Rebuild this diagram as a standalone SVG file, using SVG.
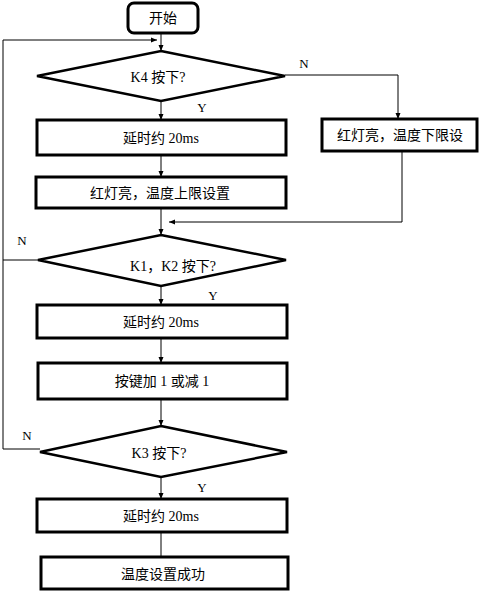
<svg xmlns="http://www.w3.org/2000/svg" width="479" height="591" viewBox="0 0 479 591">
<defs>
<marker id="arr" markerWidth="6" markerHeight="6" refX="6" refY="3" orient="auto" markerUnits="userSpaceOnUse">
<path d="M0,0.5 L6,3 L0,5.5 Z" fill="#000"/>
</marker>
<style>
.box{fill:#fff;stroke:#000;stroke-width:3}
.dia{fill:#fff;stroke:#000;stroke-width:2.5;stroke-linejoin:miter}
.ln{fill:none;stroke:#000;stroke-width:1}
.t{font-family:"Liberation Serif","Noto Sans CJK SC",serif;font-size:14px;fill:#000;text-anchor:middle}
.lbl{font-family:"Liberation Serif",serif;font-size:13px;fill:#000;text-anchor:middle}
</style>
</defs>
<rect width="479" height="591" fill="#fff"/>
<g id="connectors">
<line class="ln" x1="161" y1="33" x2="161" y2="51" marker-end="url(#arr)"/>
<polyline class="ln" points="40,449 3,449 3,40 157,40" marker-end="url(#arr)"/>
<line class="ln" x1="38" y1="260" x2="3" y2="260"/>
<line class="ln" x1="161" y1="101" x2="161" y2="120" marker-end="url(#arr)"/>
<polyline class="ln" points="285,75 398,75 398,119" marker-end="url(#arr)"/>
<line class="ln" x1="161" y1="155" x2="161" y2="177" marker-end="url(#arr)"/>
<line class="ln" x1="161" y1="208" x2="161" y2="235" marker-end="url(#arr)"/>
<polyline class="ln" points="402,151 402,222 169,222" marker-end="url(#arr)"/>
<line class="ln" x1="161" y1="286" x2="161" y2="305" marker-end="url(#arr)"/>
<line class="ln" x1="161" y1="338" x2="161" y2="363" marker-end="url(#arr)"/>
<line class="ln" x1="161" y1="399" x2="161" y2="426" marker-end="url(#arr)"/>
<line class="ln" x1="161" y1="477" x2="161" y2="499" marker-end="url(#arr)"/>
<line class="ln" x1="161" y1="532" x2="161" y2="557"/>
<text class="lbl" x="304" y="68">N</text>
<text class="lbl" x="202" y="112">Y</text>
<text class="lbl" x="22" y="245">N</text>
<text class="lbl" x="213" y="300">Y</text>
<text class="lbl" x="27" y="440">N</text>
<text class="lbl" x="202" y="492">Y</text>
</g>
<g id="start">
<rect class="box" x="128" y="3" width="70" height="30" rx="6"/>
<text class="t" x="163" y="23">开始</text>
</g>
<g id="k4">
<polygon class="dia" points="161,51 285,76 161,101 37,76"/>
<text class="t" x="158" y="82">K4 按下?</text>
</g>
<g id="delay1">
<rect class="box" x="37" y="120" width="249" height="35"/>
<text class="t" x="161" y="143">延时约 20ms</text>
</g>
<g id="lower">
<rect class="box" x="322" y="119" width="155" height="32"/>
<text class="t" x="400" y="140">红灯亮，温度下限设</text>
</g>
<g id="upper">
<rect class="box" x="36" y="177" width="250" height="31"/>
<text class="t" x="160" y="198">红灯亮，温度上限设置</text>
</g>
<g id="k1k2">
<polygon class="dia" points="161,235 286,260 161,286 38,260"/>
<text class="t" x="173" y="271">K1，K2 按下?</text>
</g>
<g id="delay2">
<rect class="box" x="37" y="305" width="250" height="33"/>
<text class="t" x="161" y="327">延时约 20ms</text>
</g>
<g id="adjust">
<rect class="box" x="38" y="363" width="249" height="36"/>
<text class="t" x="162" y="386">按键加 1 或减 1</text>
</g>
<g id="k3">
<polygon class="dia" points="161,426 287,452 161,477 40,452"/>
<text class="t" x="159" y="458">K3 按下?</text>
</g>
<g id="delay3">
<rect class="box" x="37" y="499" width="250" height="33"/>
<text class="t" x="161" y="521">延时约 20ms</text>
</g>
<g id="done">
<rect class="box" x="41" y="557" width="247" height="32"/>
<text class="t" x="163" y="579">温度设置成功</text>
</g>
</svg>
